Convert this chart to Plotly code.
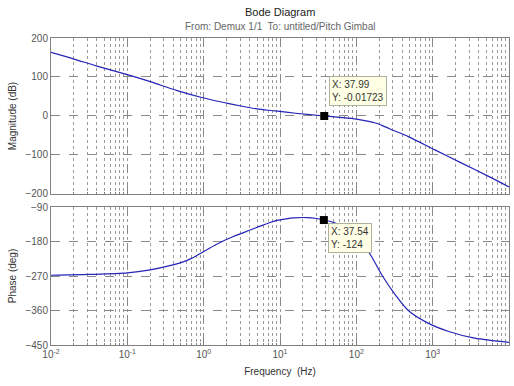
import plotly.graph_objects as go

# Magnitude data
mag_freq = [0.01, 0.02, 0.04, 0.1, 0.2, 0.45, 1, 2, 3.2, 5, 8.7, 16, 37.99, 65, 100, 140, 178, 215, 316, 480, 1070, 2400, 5400, 10000]
mag_db = [163, 146, 128, 106, 88, 65, 46, 33, 25, 18, 13, 7, -0.01723, -4, -8, -13, -18, -24, -38, -53, -87, -121, -155, -182]

# Phase data
ph_freq = [0.01, 0.0316, 0.1, 0.2, 0.36, 0.54, 0.69, 0.89, 1.48, 2.45, 4.07, 5.5, 7.24, 9.1, 12.0, 15.1, 22.4, 30.2, 37.54,
           50, 63, 79, 100, 126, 158, 214, 324, 479, 871, 1585, 3548, 10000]
ph_deg = [-268, -266, -262, -254, -243, -233, -224, -212, -187, -167, -150, -140, -131, -125, -121, -118.5, -117.5, -120, -124,
          -130, -139, -152, -168, -191, -219, -266, -319, -360, -393, -414, -432, -443]

# Data tips
tip_mag = (37.99, -0.01723)
tip_ph = (37.54, -124)

mag_ticks = [200, 100, 0, -100, -200]
ph_ticks = [-90, -180, -270, -360, -450]
freq_ticks = [0.01, 0.1, 1, 10, 100, 1000, 10000]
freq_labels = ["10<sup>-2</sup>", "10<sup>-1</sup>", "10<sup>0</sup>", "10<sup>1</sup>", "10<sup>2</sup>",
               "10<sup>3</sup>", "10<sup>4</sup>"]

line_color = "#2424b8"
font_fam = "Liberation Sans, Arial, sans-serif"
tick_font = dict(family=font_fam, size=10, color="#555555")

fig = go.Figure()
fig.add_trace(go.Scatter(x=mag_freq, y=mag_db, mode="lines", line=dict(color=line_color, width=1.2, shape="spline", smoothing=0.8),
                         xaxis="x", yaxis="y", showlegend=False))
fig.add_trace(go.Scatter(x=ph_freq, y=ph_deg, mode="lines", line=dict(color=line_color, width=1.2, shape="spline", smoothing=0.8),
                         xaxis="x2", yaxis="y2", showlegend=False))
fig.add_trace(go.Scatter(x=[tip_mag[0]], y=[tip_mag[1]], mode="markers",
                         marker=dict(symbol="square", size=8, color="black"),
                         xaxis="x", yaxis="y", showlegend=False))
fig.add_trace(go.Scatter(x=[tip_ph[0]], y=[tip_ph[1]], mode="markers",
                         marker=dict(symbol="square", size=8, color="black"),
                         xaxis="x2", yaxis="y2", showlegend=False))

xcommon = dict(type="log", range=[-2, 4], tickvals=freq_ticks, showgrid=True, gridcolor="#8a8a8a", griddash="dash", gridwidth=1,
               showline=True, linecolor="#808080", linewidth=1, mirror=True, ticks="inside", ticklen=4,
               tickcolor="#808080", zeroline=False,
               minor=dict(dtick="D1", showgrid=True, gridcolor="#9a9a9a", griddash="dot", gridwidth=1,
                          ticks="inside", ticklen=2, tickcolor="#808080"))
ycommon = dict(showgrid=True, gridcolor="#8a8a8a", griddash="dash", gridwidth=1, showline=True, linecolor="#808080",
               linewidth=1, mirror=True, ticks="inside", ticklen=4, tickcolor="#808080", zeroline=False,
               tickfont=tick_font)

fig.update_layout(
    width=514, height=386,
    margin=dict(l=51, r=5, t=38, b=41),
    paper_bgcolor="white", plot_bgcolor="white",
    xaxis=dict(**xcommon, anchor="y", matches="x2", showticklabels=False),
    xaxis2=dict(**xcommon, anchor="y2", ticktext=freq_labels, tickfont=tick_font,
                title=dict(text="Frequency  (Hz)", font=dict(family=font_fam, size=10, color="#333333"), standoff=8)),
    yaxis=dict(**ycommon, domain=[0.492, 1.0], range=[-200, 200], tickvals=mag_ticks,
               title=dict(text="Magnitude (dB)", font=dict(family=font_fam, size=10, color="#333333"), standoff=6)),
    yaxis2=dict(**ycommon, domain=[0.0, 0.4495], range=[-450, -90], tickvals=ph_ticks,
                title=dict(text="Phase (deg)", font=dict(family=font_fam, size=10, color="#333333"), standoff=6)),
    annotations=[
        dict(text="Bode Diagram", xref="paper", yref="paper", x=0.5, y=1, yshift=26, yanchor="middle", showarrow=False,
             font=dict(family=font_fam, size=11, color="#222222")),
        dict(text="From: Demux 1/1  To: untitled/Pitch Gimbal", xref="paper", yref="paper", x=0.5, y=1, yshift=12,
             yanchor="middle", showarrow=False, font=dict(family=font_fam, size=10, color="#666666")),
        dict(text="X: 37.99<br>Y: -0.01723", xref="x", yref="y", x=1.5797, y=tip_mag[1],
             xanchor="left", yanchor="bottom", xshift=5, yshift=10, showarrow=False, align="left",
             bgcolor="#ffffe6", bordercolor="#b0b0a0", borderwidth=1, borderpad=2,
             font=dict(family=font_fam, size=10, color="#333333")),
        dict(text="X: 37.54<br>Y: -124", xref="x2", yref="y2", x=1.5745, y=tip_ph[1],
             xanchor="left", yanchor="top", xshift=4, yshift=-3, showarrow=False, align="left",
             bgcolor="#ffffe6", bordercolor="#b0b0a0", borderwidth=1, borderpad=2,
             font=dict(family=font_fam, size=10, color="#333333")),
    ],
)

fig.write_html("out.html")
